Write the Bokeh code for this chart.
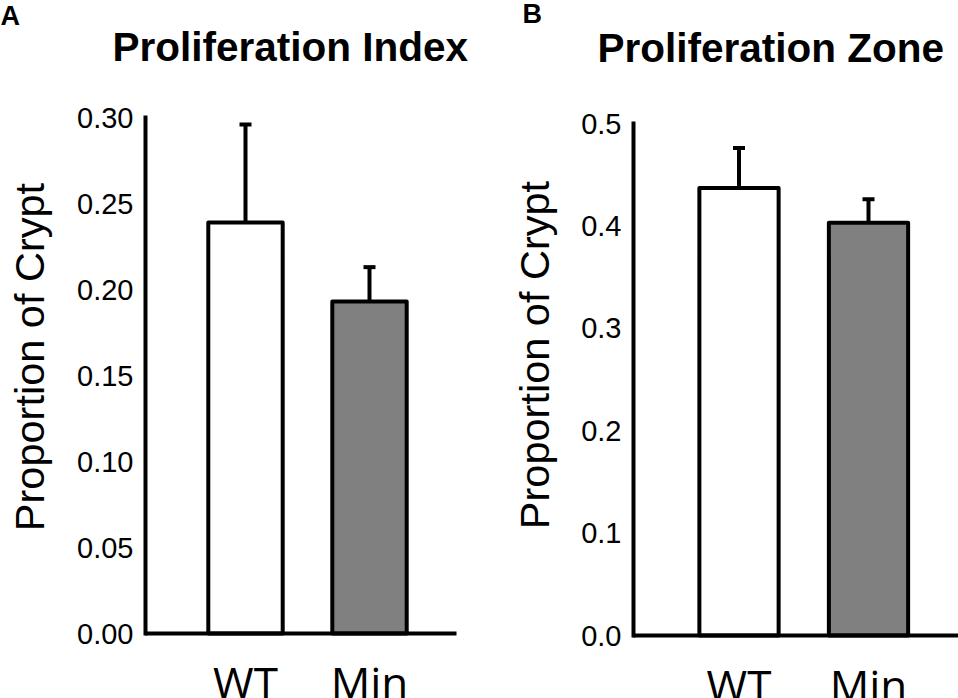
import math
from bokeh.plotting import figure
from bokeh.models import (ColumnDataSource, Range1d, FixedTicker, NumeralTickFormatter,
                          Whisker, TeeHead, Label)
from bokeh.layouts import row
from bokeh.embed import file_html
from bokeh.resources import INLINE

# ---------------- data ----------------
categories = ["WT", "Min"]
bar_colors = ["#ffffff", "#808080"]

index_values = [0.239, 0.193]
index_errors = [0.057, 0.020]
index_ticks = [0.00, 0.05, 0.10, 0.15, 0.20, 0.25, 0.30]

zone_values = [0.437, 0.403]
zone_errors = [0.039, 0.023]
zone_ticks = [0.0, 0.1, 0.2, 0.3, 0.4, 0.5]

titles = ["Proliferation Index", "Proliferation Zone"]
letters = ["A", "B"]
y_label = "Proportion of Crypt"

TICK_FONT = "Liberation Sans"
CAT_FONT = "Open Sans"
LW = 4
HEIGHT = 698


def make_panel(title, letter, values, errors, ticks, fmt, layout):
    # layout: pixel geometry of the panel (canvas pixels, top-left origin)
    width = layout["width"]
    x_first = layout["x_first"]
    step = layout["step"]
    y_zero = layout["y_zero"]
    y_top = layout["y_top"]
    axis_x = layout["axis_x"]
    axis_end = layout["axis_end"]
    ymax = ticks[-1]
    ppu = (y_zero - y_top) / ymax

    def dx(px):
        return (px - x_first) / step

    def dy(py):
        return (y_zero - py) / ppu

    p = figure(width=width, height=HEIGHT, output_backend="svg", toolbar_location=None,
               title=None, x_range=Range1d(dx(0), dx(width)),
               y_range=Range1d(dy(HEIGHT), dy(0)),
               min_border_left=0, min_border_right=0, min_border_top=0, min_border_bottom=0)
    p.outline_line_color = None
    p.grid.visible = False
    p.background_fill_color = "white"
    p.border_fill_color = "white"

    xs = list(range(len(categories)))
    src = ColumnDataSource(dict(
        x=xs, top=values, upper=[v + e for v, e in zip(values, errors)],
        color=bar_colors[:len(values)]))

    p.vbar(x="x", top="top", bottom=0, width=layout["bar_w"], source=src,
           fill_color="color", line_color="black", line_width=LW, line_join="round")
    p.add_layout(Whisker(source=src, base="x", lower="top", upper="upper", dimension="height",
                         line_color="black", line_width=LW, lower_head=None,
                         upper_head=TeeHead(size=12, line_color="black", line_width=LW)))

    ya = p.yaxis[0]
    ya.fixed_location = dx(axis_x)
    ya.bounds = (0, ymax)
    ya.ticker = FixedTicker(ticks=ticks)
    ya.formatter = NumeralTickFormatter(format=fmt)
    ya.axis_line_width = LW
    ya.axis_line_color = "black"
    ya.axis_line_cap = "square"
    ya.major_tick_in = 0
    ya.major_tick_out = 0
    ya.minor_tick_in = 0
    ya.minor_tick_out = 0
    ya.major_label_standoff = 12
    ya.major_label_text_font = TICK_FONT
    ya.major_label_text_font_size = "29px"
    ya.major_label_text_color = "black"

    xa = p.xaxis[0]
    xa.fixed_location = 0
    xa.bounds = (dx(axis_x), dx(axis_end))
    xa.ticker = FixedTicker(ticks=xs)
    xa.major_label_overrides = {i: c for i, c in zip(xs, categories)}
    xa.axis_line_width = LW
    xa.axis_line_color = "black"
    xa.major_tick_in = 0
    xa.major_tick_out = 0
    xa.minor_tick_in = 0
    xa.minor_tick_out = 0
    xa.major_label_standoff = layout["cat_standoff"]
    xa.major_label_text_font = CAT_FONT
    xa.major_label_text_font_size = "44px"
    xa.major_label_text_color = "black"

    # y axis title (rotated text)
    yx, yy = layout["ylabel_pos"]
    p.add_layout(Label(x=dx(yx), y=dy(yy), text=y_label, angle=math.pi / 2,
                       text_align="center", text_baseline="alphabetic",
                       text_font=TICK_FONT, text_font_size="41.5px", text_color="black"))

    tx, ty = layout["title_pos"]
    p.add_layout(Label(x=dx(tx), y=dy(ty), text=title, text_align="left",
                       text_baseline="alphabetic", text_font=TICK_FONT,
                       text_font_style="bold", text_font_size="40.5px", text_color="black"))
    lx, ly = layout["letter_pos"]
    p.add_layout(Label(x=dx(lx), y=dy(ly), text=letter, text_align="left",
                       text_baseline="alphabetic", text_font=TICK_FONT,
                       text_font_style="bold", text_font_size="27px", text_color="black"))
    return p


left_layout = dict(width=480, x_first=245, step=124, y_zero=633, y_top=117, axis_x=145,
                   axis_end=456, bar_w=0.6, cat_standoff=18,
                   ylabel_pos=(28.5, 356.5), title_pos=(112, 46.5), letter_pos=(0, 15))
right_layout = dict(width=478, x_first=738.5 - 480, step=129.5, y_zero=635, y_top=123,
                    axis_x=633 - 480, axis_end=478, bar_w=0.612, cat_standoff=19,
                    ylabel_pos=(533.5 - 480, 354.5), title_pos=(597 - 480, 47),
                    letter_pos=(522 - 480, 13))

p1 = make_panel(titles[0], letters[0], index_values, index_errors, index_ticks, "0.00",
                left_layout)
p2 = make_panel(titles[1], letters[1], zone_values, zone_errors, zone_ticks, "0.0",
                right_layout)

open("out.html", "w").write(file_html(row(p1, p2), INLINE))
